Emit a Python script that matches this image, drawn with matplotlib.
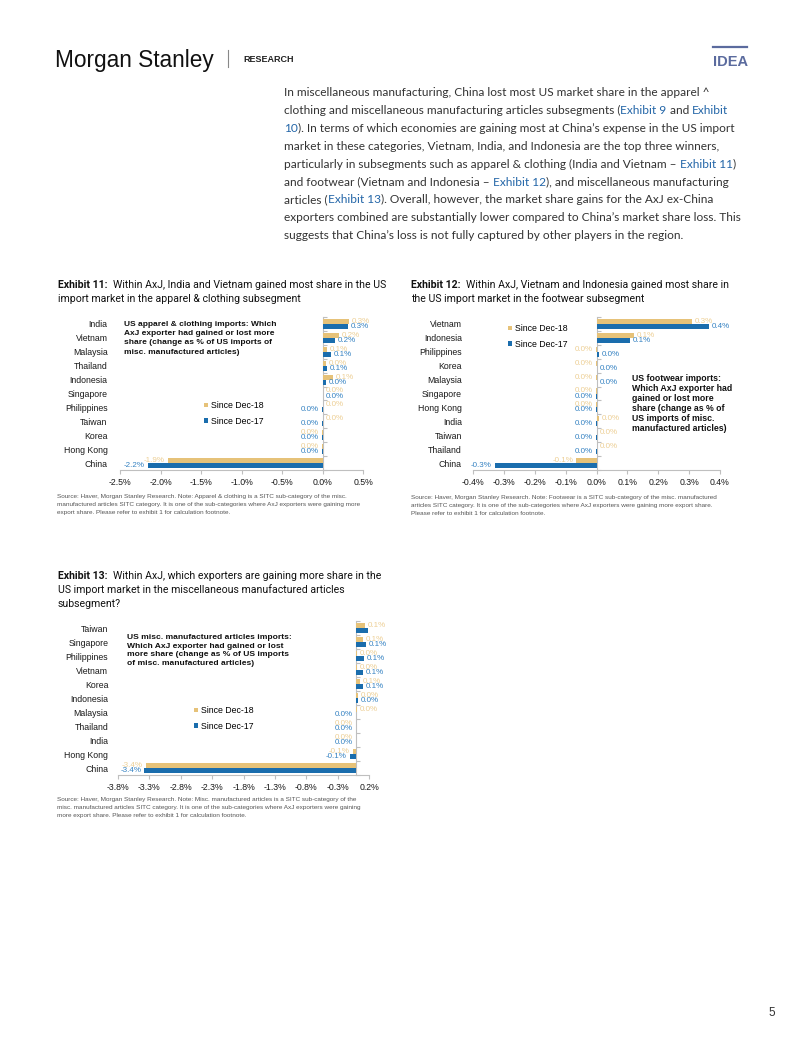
import matplotlib
matplotlib.use('Agg')
import matplotlib.pyplot as plt
import numpy as np
from matplotlib import font_manager
from matplotlib.ticker import FuncFormatter

# ---------------- data ----------------
ex11_cats = ['India', 'Vietnam', 'Malaysia', 'Thailand', 'Indonesia', 'Singapore',
             'Philippines', 'Taiwan', 'Korea', 'Hong Kong', 'China']
ex11_dec18 = [0.33, 0.20, 0.06, 0.04, 0.13, 0.01, 0.005, 0.005, -0.005, -0.005, -1.91]
ex11_dec17 = [0.31, 0.16, 0.10, 0.06, 0.04, 0.005, -0.005, -0.01, -0.01, -0.01, -2.16]

ex12_cats = ['Vietnam', 'Indonesia', 'Philippines', 'Korea', 'Malaysia', 'Singapore',
             'Hong Kong', 'India', 'Taiwan', 'Thailand', 'China']
ex12_dec18 = [0.31, 0.12, -0.002, -0.002, -0.002, -0.002, -0.002, 0.008, 0.002, 0.002, -0.065]
ex12_dec17 = [0.365, 0.11, 0.008, 0.002, 0.002, -0.002, -0.002, -0.002, -0.003, -0.003, -0.33]

ex13_cats = ['Taiwan', 'Singapore', 'Philippines', 'Vietnam', 'Korea', 'Indonesia',
             'Malaysia', 'Thailand', 'India', 'Hong Kong', 'China']
ex13_dec18 = [0.14, 0.11, 0.01, 0.005, 0.06, 0.03, 0.005, -0.005, -0.005, -0.06, -3.36]
ex13_dec17 = [0.18, 0.15, 0.12, 0.10, 0.10, 0.03, -0.01, -0.01, -0.01, -0.11, -3.38]
ex13_hidden_dec17_labels = ['Taiwan']

series_names = ['Since Dec-18', 'Since Dec-17']

# ---------------- styling ----------------
W, H = 802, 1037
fig = plt.figure(figsize=(W / 100, H / 100), dpi=100)

GOLD = '#E6C279'
BLUE = '#1A6DAD'
GOLD_LBL = '#EDCF95'
BLUE_LBL = '#3582C2'
LINK = '#2466A8'
AXC = '#BFBFBF'


def has_font(name):
    try:
        font_manager.findfont(font_manager.FontProperties(family=name), fallback_to_default=False)
        return True
    except Exception:
        return False


ARIAL = 'Liberation Sans'
NARROW = 'Liberation Sans Narrow' if has_font('Liberation Sans Narrow') else 'Liberation Sans'
BODY = 'Lato' if has_font('Lato') else 'DejaVu Sans'
TITLE = 'Roboto' if has_font('Roboto') else 'DejaVu Sans'


def fx(x):
    return x / W


def fy(y):
    return 1 - y / H


renderer = fig.canvas.get_renderer()


def runs(x, y, pieces, size, family, **kw):
    """Draw text pieces one after another on a baseline at pixel (x, y)."""
    for txt, color, weight in pieces:
        t = fig.text(fx(x), fy(y), txt, color=color, fontsize=size, family=family,
                     fontweight=weight, va='baseline', ha='left', **kw)
        bb = t.get_window_extent(renderer)
        x += bb.width


# ---------------- header ----------------
fig.text(fx(55), fy(67), 'Morgan Stanley', fontsize=17.5 if NARROW != ARIAL else 16.3,
         family=NARROW, color='#111111', va='baseline')
fig.add_artist(plt.Line2D([fx(228), fx(228)], [fy(50), fy(67)], color='#888888', lw=0.8))
fig.text(fx(243), fy(62), 'RESEARCH', fontsize=6.5, family=ARIAL, fontweight='bold',
         color='#222222', va='baseline')
fig.add_artist(plt.Line2D([fx(713), fx(747)], [fy(47), fy(47)], color='#5B6B9E', lw=1.6))
fig.text(fx(713), fy(66), 'IDEA', fontsize=10.5, family=NARROW, fontweight='bold',
         color='#5B6B9E', va='baseline')

# ---------------- paragraph ----------------
TXT = '#333333'
para = [
    [('In miscellaneous manufacturing, China lost most US market share in the apparel ^', TXT, 'normal')],
    [('clothing and miscellaneous manufacturing articles subsegments (', TXT, 'normal'),
     ('Exhibit 9', LINK, 'normal'), (' and ', TXT, 'normal'), ('Exhibit', LINK, 'normal')],
    [('10', LINK, 'normal'),
     ('). In terms of which economies are gaining most at China\u2019s expense in the US import', TXT, 'normal')],
    [('market in these categories, Vietnam, India, and Indonesia are the top three winners,', TXT, 'normal')],
    [('particularly in subsegments such as apparel & clothing (India and Vietnam \u2013 ', TXT, 'normal'),
     ('Exhibit 11', LINK, 'normal'), (')', TXT, 'normal')],
    [('and footwear (Vietnam and Indonesia \u2013 ', TXT, 'normal'), ('Exhibit 12', LINK, 'normal'),
     ('), and miscellaneous manufacturing', TXT, 'normal')],
    [('articles (', TXT, 'normal'), ('Exhibit 13', LINK, 'normal'),
     ('). Overall, however, the market share gains for the AxJ ex-China', TXT, 'normal')],
    [('exporters combined are substantially lower compared to China\u2019s market share loss. This', TXT, 'normal')],
    [('suggests that China\u2019s loss is not fully captured by other players in the region.', TXT, 'normal')],
]
for i, line in enumerate(para):
    runs(284, 96 + i * 17.9, line, 8.6, BODY)

# ---------------- exhibit titles ----------------
def title(x, y, lines, size=7.6):
    first = True
    for i, ln in enumerate(lines):
        if first:
            runs(x, y, [('Exhibit ' + ln[0] + ':  ', '#111111', 'bold'), (ln[1], '#111111', 'normal')],
                 size, TITLE)
            first = False
        else:
            runs(x, y + i * 14, [(ln, '#111111', 'normal')], size, TITLE)


title(58, 288, [('11', 'Within AxJ, India and Vietnam gained most share in the US'),
                'import market in the apparel & clothing subsegment'])
title(411, 288, [('12', 'Within AxJ, Vietnam and Indonesia gained most share in'),
                 'the US import market in the footwear subsegment'])
title(58, 579, [('13', 'Within AxJ, which exporters are gaining more share in the'),
                'US import market in the miscellaneous manufactured articles',
                'subsegment?'])


# ---------------- charts ----------------
def fmt_pct(v):
    return f"{round(v, 1) + 0.0:.1f}%"


def chart(left, top, right, bottom, cats, d18, d17, xlim, ticks, catpad, hidden17=()):
    ax = fig.add_axes([fx(left), fy(bottom), fx(right) - fx(left), fy(top) - fy(bottom)])
    y = np.arange(len(cats))
    h = 0.36
    b18 = ax.barh(y - h / 2, d18, height=h, color=GOLD, label=series_names[0])
    b17 = ax.barh(y + h / 2, d17, height=h, color=BLUE, label=series_names[1])
    ax.set_ylim(len(cats) - 0.5, -0.5)
    ax.set_xlim(xlim)
    ax.set_xticks(ticks)
    ax.xaxis.set_major_formatter(FuncFormatter(lambda v, p: fmt_pct(v)))
    ax.set_yticks(y)
    ax.set_yticklabels(cats, family=ARIAL, fontsize=6.3, color='#1a1a1a')
    ax.tick_params(axis='y', length=0, pad=catpad)
    ax.tick_params(axis='x', length=3, color=AXC, labelsize=6.3, labelcolor='#1a1a1a', pad=3)
    for lbl in ax.get_xticklabels():
        lbl.set_family(ARIAL)
    for s in ['top', 'right', 'left']:
        ax.spines[s].set_visible(False)
    ax.spines['bottom'].set_color(AXC)
    ax.spines['bottom'].set_linewidth(0.8)
    frac = (0 - xlim[0]) / (xlim[1] - xlim[0])
    sec = ax.secondary_yaxis(frac)
    sec.set_yticks(np.arange(len(cats) + 1) - 0.5)
    sec.set_yticklabels([])
    sec.tick_params(length=3, color=AXC, width=0.8)
    for s in sec.spines.values():
        s.set_color(AXC)
        s.set_linewidth(0.8)
    for vals, off, col, name in [(d18, -h / 2, GOLD_LBL, 'g'), (d17, h / 2, BLUE_LBL, 'b')]:
        for c, yi, v in zip(cats, y, vals):
            if name == 'b' and c in hidden17:
                continue
            ax.annotate(fmt_pct(v), (v, yi + off), xytext=(2 if v >= 0 else -2, 0),
                        textcoords='offset points', ha='left' if v >= 0 else 'right',
                        va='center', fontsize=5.8, family=ARIAL, color=col)
    return ax, b18, b17


def legend(ax, handles, x, y):
    ax.legend(handles=handles, loc='upper left', bbox_to_anchor=(fx(x), fy(y)),
              bbox_transform=fig.transFigure, frameon=False,
              handlelength=0.45, handleheight=0.45, handletextpad=0.3,
              labelspacing=0.75, borderpad=0, borderaxespad=0,
              prop={'family': ARIAL, 'size': 6.3})


def inner_title(x, y, lines, pitch, size=6.0):
    for i, ln in enumerate(lines):
        fig.text(fx(x), fy(y + i * pitch), ln, fontsize=size, family=ARIAL, fontweight='bold',
                 color='#111111', va='baseline')


# Exhibit 11
ax11, g, b = chart(120, 317, 363, 470, ex11_cats, ex11_dec18, ex11_dec17, (-2.5, 0.5),
                   np.round(np.arange(-2.5, 0.51, 0.5), 1), 9)
legend(ax11, [g, b], 204, 401)
inner_title(124, 326, ['US apparel & clothing imports: Which', 'AxJ exporter had gained or lost more',
                       'share (change as % of US imports of', 'misc. manufactured articles)'], 9.2)

# Exhibit 12
ax12, g, b = chart(473, 317, 720, 470, ex12_cats, ex12_dec18, ex12_dec17, (-0.4, 0.4),
                   np.round(np.arange(-0.4, 0.41, 0.1), 1), 8)
legend(ax12, [g, b], 508, 324)
inner_title(632, 381, ['US footwear imports:', 'Which AxJ exporter had', 'gained or lost more',
                       'share (change as % of', 'US imports of misc.', 'manufactured articles)'], 10, 6.3)

# Exhibit 13
ax13, g, b = chart(118, 621, 369, 775, ex13_cats, ex13_dec18, ex13_dec17, (-3.8, 0.2),
                   np.round(np.arange(-3.8, 0.21, 0.5), 1), 7, ex13_hidden_dec17_labels)
legend(ax13, [g, b], 194, 706)
inner_title(127, 639, ['US misc. manufactured articles imports:', 'Which AxJ exporter had gained or lost',
                       'more share (change as % of US imports', 'of misc. manufactured articles)'], 8.7, 6.1)

# ---------------- sources ----------------
def source(x, y, lines):
    for i, ln in enumerate(lines):
        fig.text(fx(x), fy(y + i * 7.8), ln, fontsize=4.6, family=ARIAL, color='#555555',
                 va='baseline')


source(57, 498, ['Source: Haver, Morgan Stanley Research. Note: Apparel & clothing is a SITC sub-category of the misc.',
                 'manufactured articles SITC category. It is one of the sub-categories where AxJ exporters were gaining more',
                 'export share. Please refer to exhibit 1 for calculation footnote.'])
source(411, 499, ['Source: Haver, Morgan Stanley Research. Note: Footwear is a SITC sub-category of the misc. manufactured',
                  'articles SITC category. It is one of the sub-categories where AxJ exporters were gaining more export share.',
                  'Please refer to exhibit 1 for calculation footnote.'])
source(57, 801, ['Source: Haver, Morgan Stanley Research. Note: Misc. manufactured articles is a SITC sub-category of the',
                 'misc. manufactured articles SITC category. It is one of the sub-categories where AxJ exporters were gaining',
                 'more export share. Please refer to exhibit 1 for calculation footnote.'])

fig.text(fx(768), fy(1016), '5', fontsize=8.5, family=ARIAL, color='#333333', va='baseline')

fig.savefig('out.png', dpi=100, facecolor='white')
